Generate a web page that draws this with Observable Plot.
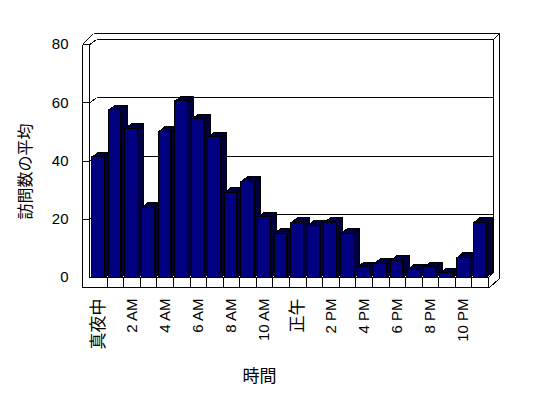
<!DOCTYPE html>
<html>
<head>
<meta charset="utf-8">
<script src="https://cdn.jsdelivr.net/npm/d3@7"></script>
<script src="https://cdn.jsdelivr.net/npm/@observablehq/plot@0.6"></script>
<style>
  html, body { margin: 0; padding: 0; background: #fff; }
  #chart svg text { font-family: "Liberation Sans", Arial, "Noto Sans CJK JP", sans-serif; fill: #000; }
</style>
</head>
<body>
<div id="chart"></div>
<script>
// ---- data ----
const hours = d3.range(24);
const visits = [41.3, 57.4, 51.1, 24, 50, 60.5, 54.3, 48.1, 29.1, 32.9, 20.7, 15.1,
                18.8, 17.8, 18.8, 15, 3.5, 4.7, 5.8, 2.6, 3.5, 1.5, 6.8, 18.8];
const tickHours = [0, 2, 4, 6, 8, 10, 12, 14, 16, 18, 20, 22];
const tickLabels = ["真夜中", "2 AM", "4 AM", "6 AM", "8 AM", "10 AM", "正午", "2 PM", "4 PM", "6 PM", "8 PM", "10 PM"];
const yTicks = [0, 20, 40, 60, 80];
const yTitle = "訪問数の平均";
const xTitle = "時間";

// ---- layout ----
const W = 548, H = 398, mL = 90, mR = 60, mT = 44, mB = 121;
const PX = (W - mL - mR) / 24;      // px per hour band
const PY = (H - mT - mB) / 80;      // px per visit
const ux = px => (px - mL) / PX;    // pixel -> x units
const uy = py => (H - mB - py) / PY; // pixel -> y units
const bdx = 6 / PX, bdy = 5 / PY;    // bar depth
const wdx = 7 / PX, wdy = 5 / PY;    // wall depth
const f1 = 1.7 / PX, f2 = 14.3 / PX; // bar face within band

const DARK = "#000041";

// bars
const fronts = hours.map(h => ({x1: h + f1, x2: h + f2, y: visits[h]}));
const sides = [], tops = [];
hours.forEach(h => {
  const x1 = h + f1, x2 = h + f2, v = visits[h];
  [[x2, 0], [x2, v], [x2 + bdx, v + bdy], [x2 + bdx, bdy], [x2, 0]]
    .forEach(([x, y]) => sides.push({id: h, x, y}));
  [[x1, v], [x2, v], [x2 + bdx, v + bdy], [x1 + bdx, v + bdy], [x1, v]]
    .forEach(([x, y]) => tops.push({id: h, x, y}));
});

// walls / floor frame segments (pixel geometry of the 3D box)
const L0 = ux(82), L1 = ux(89.3), B0 = ux(96), BR = ux(493), OR = ux(499), FR = 24;
const T0 = 80, TB = 80 + wdy, TO = uy(33.3), FB = -10 / PY, BK = wdy;
const segs = [
  [L0, T0, L0, FB], [L1, T0, L1, 0], [L0, T0, L1, T0],
  [L0, T0, ux(93), TO], [L1, T0, B0, TB],
  [B0, TB, BR, TB], [ux(93), TO, OR, TO], [OR, TO, BR, TB],
  [BR, TB, BR, BK], [OR, TO, OR, uy(278)], [OR, uy(278), ux(489), FB],
  [L0, FB, ux(489), FB], [L1, 0, FR, 0], [FR, 0, FR, FB], [FR, 0, BR, BK],
  [B0, BK, BR, BK]
];
hours.slice(1).forEach(h => segs.push([h, 0, h, FB]));
yTicks.filter(v => v > 0 && v < 80).forEach(v => {
  segs.push([B0, v + wdy, BR, v + wdy]);
  segs.push([L0, v, L1, v]);
  segs.push([L1, v, B0, v + wdy]);
});
const segData = segs.map(([x1, y1, x2, y2]) => ({x1, y1, x2, y2}));

const labels = tickHours.map((h, i) => ({x: h + 0.5, label: tickLabels[i]}));

const chart = Plot.plot({
  width: W, height: H,
  marginLeft: mL, marginRight: mR, marginTop: mT, marginBottom: mB,
  x: {type: "linear", domain: [0, 24], axis: null},
  y: {domain: [0, 80], ticks: yTicks, tickSize: 0, tickPadding: 22, label: null, tickFormat: d => d},
  style: {fontSize: "15px", color: "#000", background: "#fff", overflow: "visible"},
  marks: [
    Plot.link(segData, {x1: "x1", y1: "y1", x2: "x2", y2: "y2", stroke: "#000", strokeWidth: 1}),
    Plot.line(sides, {x: "x", y: "y", z: "id", fill: DARK, stroke: "#000", strokeWidth: 1}),
    Plot.line(tops, {x: "x", y: "y", z: "id", fill: DARK, stroke: "#000", strokeWidth: 1}),
    Plot.rect(fronts, {x1: "x1", x2: "x2", y1: 0, y2: "y", fill: "#000080", stroke: "#000", strokeWidth: 1}),
    Plot.text(labels, {x: "x", y: 0, dy: 21, text: "label", rotate: -90, textAnchor: "end", lineAnchor: "middle", fontSize: 15}),
    Plot.text([yTitle], {x: ux(25), y: uy(171), text: d => d, rotate: -90, fontSize: 16}),
    Plot.text([xTitle], {x: ux(259), y: uy(376), text: d => d, fontSize: 17})
  ]
});

const svg = d3.select(chart);
svg.style("shape-rendering", "crispEdges");
const defs = svg.insert("defs", ":first-child");
const pat = defs.append("pattern").attr("id", "dither").attr("width", 2).attr("height", 2).attr("patternUnits", "userSpaceOnUse");
pat.append("rect").attr("width", 2).attr("height", 2).attr("fill", "#000");
pat.append("rect").attr("x", 0).attr("y", 0).attr("width", 1).attr("height", 1).attr("fill", "#000080");
pat.append("rect").attr("x", 1).attr("y", 1).attr("width", 1).attr("height", 1).attr("fill", "#000080");
svg.selectAll(`[fill="${DARK}"]`).attr("fill", "url(#dither)");

// explicit text sizes
svg.selectAll("text").each(function () {
  const t = this.textContent;
  let size = 15;
  if (t === yTitle) size = 16;
  else if (t === xTitle) size = 17;
  else if (/[^\x00-\x7f]/.test(t)) size = 17;
  this.style.fontSize = size + "px";
});

document.getElementById("chart").appendChild(chart);
</script>
</body>
</html>
